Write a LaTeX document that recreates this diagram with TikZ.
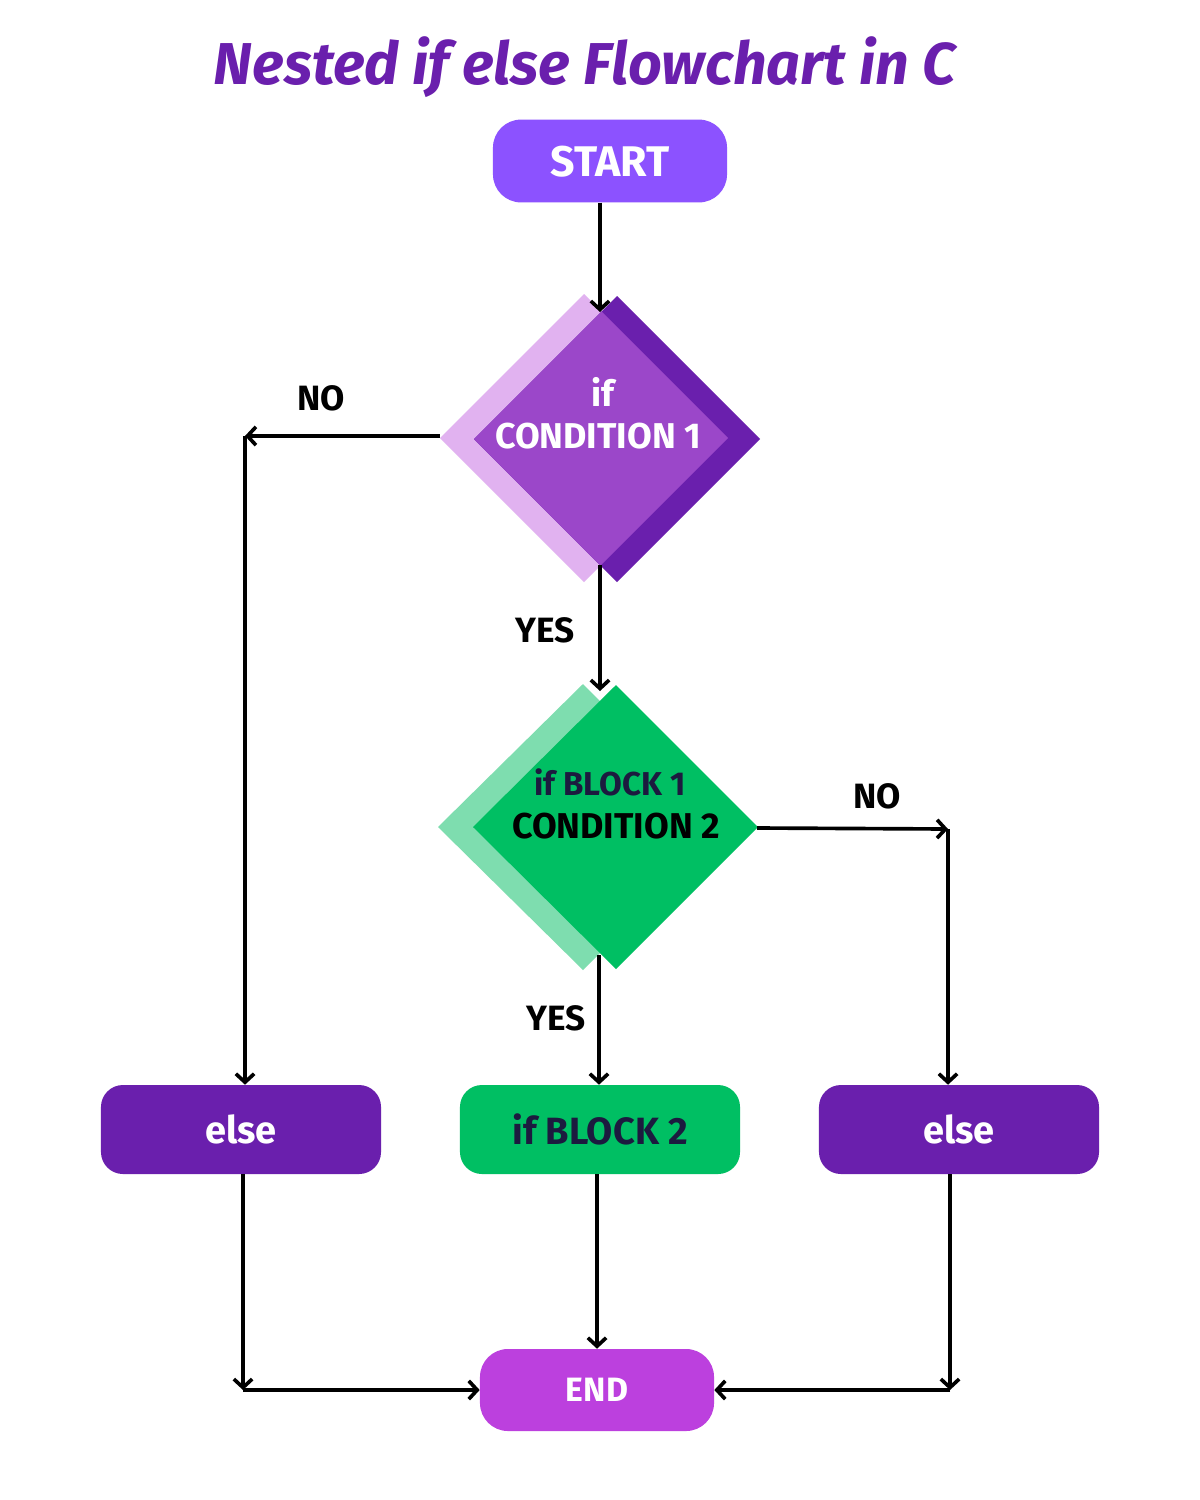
\documentclass[tikz,border=0pt]{standalone}
\usepackage{fontspec}
\setmainfont{Fira Sans}
\usetikzlibrary{arrows.meta}
\definecolor{titlepurple}{HTML}{6A1FAD}
\definecolor{startcol}{HTML}{8C52FF}
\definecolor{dlight}{HTML}{E1B2F0}
\definecolor{dmid}{HTML}{9B47C9}
\definecolor{ddark}{HTML}{6A1FAD}
\definecolor{gfront}{HTML}{00BF63}
\definecolor{glight}{HTML}{7EDDAF}
\definecolor{endcol}{HTML}{BC40DE}
\definecolor{navy}{HTML}{1C1A3F}
\begin{document}
\begin{tikzpicture}[x=0.025cm,y=-0.025cm,
  conn/.style={line width=2.6pt,-{Straight Barb[length=6pt,width=13pt]}},
  box/.style={rectangle,rounded corners=0.55cm,minimum width=7cm,minimum height=2.225cm,inner sep=0pt,font=\bfseries\fontsize{27}{30}\selectfont},
  term/.style={rectangle,rounded corners=0.7cm,minimum width=5.85cm,minimum height=2.07cm,inner sep=0pt,text=white},
  lbl/.style={font=\bfseries\fontsize{25}{28}\selectfont,text=black},
  dtext/.style={align=center,font=\bfseries\fontsize{25.5}{30}\selectfont}]
\useasboundingbox (0,0) rectangle (1200,1500);
\fill[white] (0,0) rectangle (1200,1500);

% title
\node[font=\bfseries\itshape\fontsize{42}{50}\selectfont,text=titlepurple] (title) at (585,67) {Nested if else Flowchart in C};

% start / end
\node[term,fill=startcol,font=\bfseries\fontsize{30.5}{34}\selectfont,text depth=0pt,text height=22pt] (start) at (610,161) {START};
\node[term,fill=endcol,minimum height=2.05cm,font=\bfseries\fontsize{24}{28}\selectfont] (end) at (597,1390) {END};

% diamond 1
\fill[dlight] (584,294) -- (728,438) -- (584,582) -- (440,438) -- cycle;
\fill[ddark] (617,296) -- (760,439) -- (617,582) -- (474,439) -- cycle;
\begin{scope}
\clip (584,294) -- (728,438) -- (584,582) -- (440,438) -- cycle;
\fill[dmid] (617,296) -- (760,439) -- (617,582) -- (474,439) -- cycle;
\end{scope}
\node[dtext,text=white] (d1a) at (603,392) {if};
\node[dtext,text=white] (d1b) at (598,436) {CONDITION 1};
\coordinate (d1top) at (600,312);
\coordinate (d1bot) at (600,565);
\coordinate (d1left) at (440,436);

% diamond 2
\fill[glight] (583,684) -- (726,827) -- (583,970) -- (438,827) -- cycle;
\fill[gfront] (616,685) -- (758,827) -- (616,969) -- (473,827) -- cycle;
\node[dtext,text=navy,font=\bfseries\fontsize{23.5}{28}\selectfont] (d2a) at (610,782) {if BLOCK 1};
\node[dtext,text=black] (d2b) at (616,826) {CONDITION 2};
\coordinate (d2top) at (600,691);
\coordinate (d2bot) at (599,955);
\coordinate (d2right) at (757,828);

% boxes
\node[box,fill=ddark,text=white] (else1) at (241,1129.5) {else};
\node[box,fill=gfront,text=navy] (blk2) at (600,1129.5) {if BLOCK 2};
\node[box,fill=ddark,text=white] (else2) at (959,1129.5) {else};

% corner coordinates
\coordinate (c1) at (245,436);
\coordinate (c2) at (948,829);
\coordinate (c3) at (243,1390);
\coordinate (c4) at (950,1390);

% connectors
\draw[conn] (start.south -| d1top) -- (d1top);
\draw[conn] (d1left) -- (c1);
\draw[conn] (c1) -- (c1 |- else1.north);
\draw[conn] (d1bot) -- (d2top);
\draw[conn] (d2right) -- (c2);
\draw[conn] (c2) -- (c2 |- else2.north);
\draw[conn] (d2bot) -- (d2bot |- blk2.north);
\draw[conn] (c3 |- else1.south) -- (c3);
\draw[conn] (c3) -- (end.west);
\draw[conn] (blk2.south -| end.north) -- (end.north);
\draw[conn] (c4 |- else2.south) -- (c4);
\draw[conn] (c4) -- (end.east);

% labels
\node[lbl] (no1) at (321,398) {NO};
\node[lbl] (yes1) at (545,630) {YES};
\node[lbl] (no2) at (877,796) {NO};
\node[lbl] (yes2) at (556,1018) {YES};
\end{tikzpicture}
\end{document}
